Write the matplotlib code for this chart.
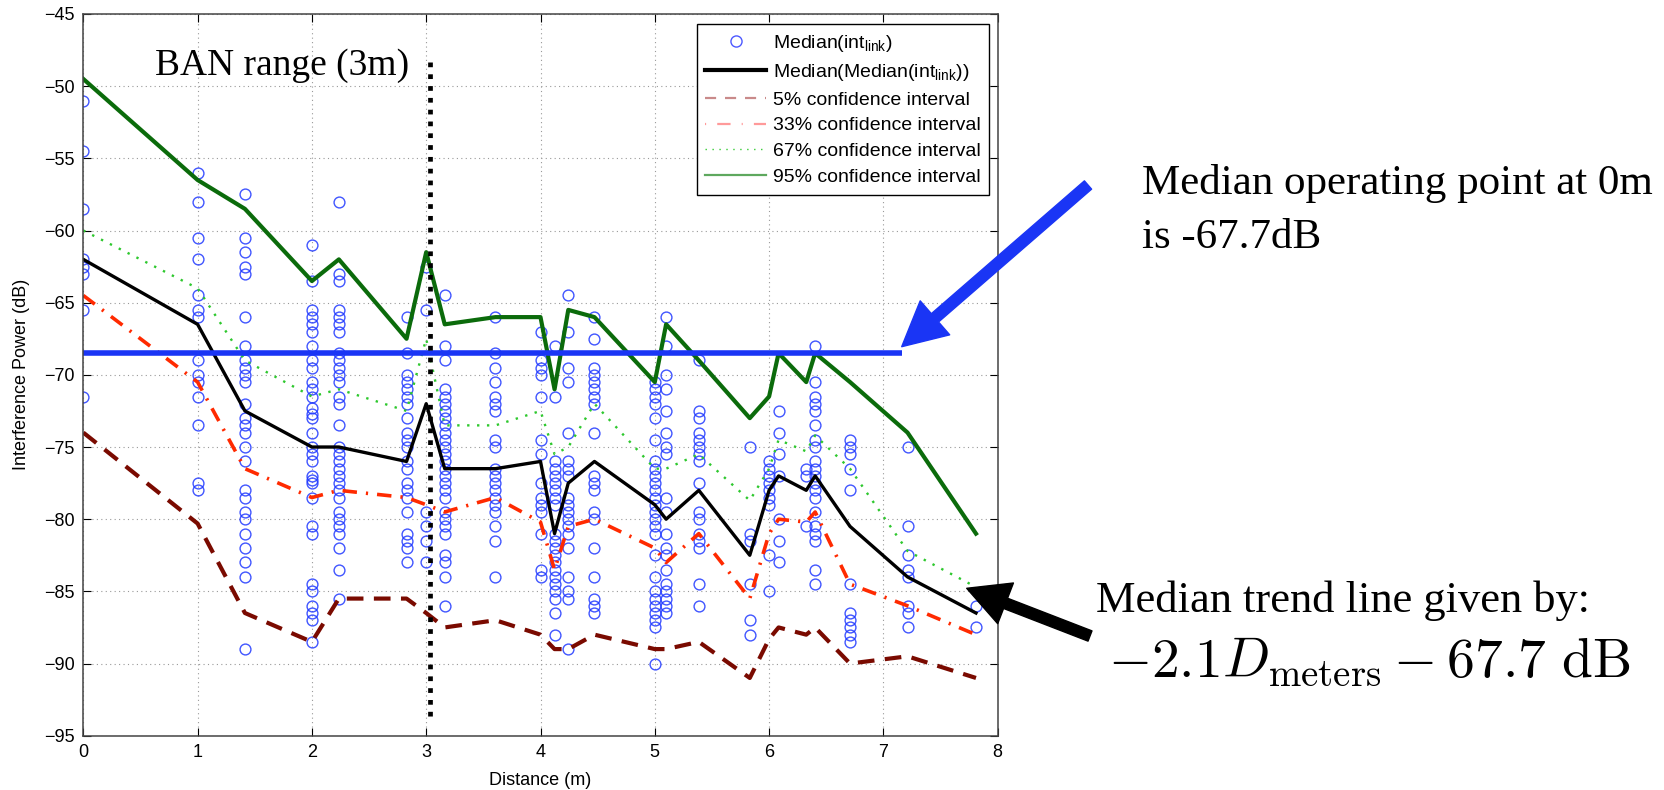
import matplotlib
matplotlib.use("Agg")
import matplotlib.pyplot as plt
from matplotlib.lines import Line2D
from matplotlib.patches import ArrowStyle

plt.rcParams['font.family'] = ['Liberation Sans', 'DejaVu Sans']
plt.rcParams['mathtext.fontset'] = 'custom'
plt.rcParams['mathtext.rm'] = 'Liberation Sans'
plt.rcParams['mathtext.it'] = 'Liberation Sans:italic'

# distances of the measurement columns (m)
dist = [0, 1, 1.414, 2, 2.236, 2.828, 3, 3.162, 3.606, 4, 4.123, 4.243,
        4.472, 5, 5.099, 5.385, 5.831, 6, 6.083, 6.325, 6.403, 6.708, 7.211, 7.81]

# per-link medians, one list per distance
c_0 = [-51, -54.5, -58.5, -62, -62.5, -63, -65.5, -71.5]
c_1 = [-56, -58, -60.5, -62, -64.5, -65.5, -66, -69, -70, -70.5, -71.5, -73.5, -77.5, -78]
c_1414 = [-57.5, -60.5, -61.5, -62.5, -63, -66, -68, -69, -69.5, -70, -70.5, -72, -73,
          -73.5, -74, -75, -76, -78, -78.5, -79.5, -80, -81, -82, -83, -84, -89]
c_2 = [-61, -63.5, -65.5, -66, -66.5, -67, -68, -69, -69.5, -70.5, -71, -71.5, -72.3,
       -72.7, -73, -74, -75, -75.5, -76, -77, -77.3, -77.5, -78.5, -80.5, -81, -84.5,
       -85, -86, -86.5, -87, -88.5]
c_2236 = [-58, -63, -63.5, -65.5, -66, -66.5, -67, -68.5, -69, -69.5, -70, -70.5, -71.5,
          -72, -73.5, -75, -75.5, -76, -76.5, -77, -77.5, -78, -78.5, -79.5, -80, -80.5,
          -81, -82, -83.5, -85.5]
c_2828 = [-66, -68.5, -70, -70.5, -71, -71.5, -72, -73, -74, -74.5, -75, -76, -76.5,
          -77.5, -78, -78.5, -79.5, -81, -81.5, -82, -83]
c_3 = [-62.5, -65.5, -79.5, -80.5, -81.5, -83]
c_3162 = [-64.5, -68, -69, -71, -71.5, -72, -72.5, -73, -73.5, -74, -74.5, -75, -75.5,
          -76, -76.5, -77, -77.5, -78, -78.5, -79.5, -80, -80.5, -81, -82.5, -83, -84, -86]
c_3606 = [-66, -68.5, -69.5, -70.5, -71.5, -72, -72.5, -74.5, -75, -76.5, -77, -77.5,
          -78, -78.5, -79, -79.5, -80.5, -81.5, -84]
c_4 = [-67, -69, -69.5, -70, -71.5, -74.5, -75.5, -77.5, -78.5, -79, -79.5, -81, -83.5, -84]
c_4123 = [-68, -71.5, -76, -76.5, -77, -77.5, -78, -78.5, -79, -81, -81.5, -82, -82.5,
          -83, -83.5, -84, -84.5, -85, -85.5, -86.5, -88]
c_4243 = [-64.5, -67, -69.5, -70.5, -74, -76, -76.5, -77, -78.5, -79, -79.5, -80, -80.5,
          -81, -82, -84, -85, -85.5, -89]
c_4472 = [-66, -67.5, -69.5, -70, -70.5, -71, -71.5, -72, -74, -77, -77.5, -78, -79.5,
          -80, -82, -84, -85.5, -86, -86.5]
c_5 = [-70.5, -71, -71.5, -72, -73, -74.5, -76, -76.5, -77, -77.5, -78, -78.5, -79,
       -79.5, -80, -80.5, -81, -82.5, -84, -85, -85.5, -86, -86.5, -87, -87.5, -90]
c_5099 = [-66, -68, -70, -71, -72.5, -74, -75, -75.5, -78.5, -79.5, -81, -82, -82.5,
          -83.5, -84.5, -85, -85.5, -86, -86.5]
c_5385 = [-69, -72.5, -73, -74, -74.5, -75, -75.5, -76, -77.5, -79.5, -80, -81, -81.5,
          -82, -84.5, -86]
c_5831 = [-75, -81, -81.5, -84.5, -87, -88]
c_6 = [-76, -76.5, -77, -77.5, -78, -78.5, -79, -82.5, -85]
c_6083 = [-72.5, -74, -75.5, -77, -80, -81.5, -83]
c_6325 = [-76.5, -77, -80.5]
c_6403 = [-68, -70.5, -71.5, -72, -72.5, -73.5, -74.5, -75, -76, -76.5, -77, -77.5, -78,
          -78.5, -79.5, -80.5, -81, -81.5, -83.5, -84.5]
c_6708 = [-74.5, -75, -75.5, -76.5, -78, -84.5, -86.5, -87, -87.5, -88, -88.5]
c_7211 = [-75, -80.5, -82.5, -83.5, -84, -86, -86.5, -87.5]
c_781 = [-86, -87.5]

columns = [c_0, c_1, c_1414, c_2, c_2236, c_2828, c_3, c_3162, c_3606, c_4, c_4123,
           c_4243, c_4472, c_5, c_5099, c_5385, c_5831, c_6, c_6083, c_6325, c_6403,
           c_6708, c_7211, c_781]

# median of medians and confidence intervals
median = [-62, -66.5, -72.5, -75, -75, -76, -72, -76.5, -76.5, -76, -81, -77.5, -76,
          -79, -80, -78, -82.5, -78, -77, -78, -77, -80.5, -84, -86.5]
ci_5 = [-74, -80.3, -86.5, -88.5, -85.5, -85.5, -86.5, -87.5, -87, -88, -89, -89, -88,
        -89, -89, -88.5, -91, -88.3, -87.5, -88, -87.5, -90, -89.5, -91]
ci_33 = [-64.5, -70.5, -76.5, -78.5, -78, -78.5, -79, -79.5, -78.5, -80.2, -83.5, -80.5,
         -80, -82, -83, -81, -85.5, -81, -80, -80.2, -79.5, -84.5, -86, -88]
ci_67 = [-60, -64, -69, -71.5, -71, -72.5, -67.5, -73.5, -73.5, -72.5, -75.5, -75, -72,
         -76.5, -76.5, -75.5, -78.7, -76.5, -74.5, -75.3, -74.2, -76.5, -82.2, -84.7]
ci_95 = [-49.5, -56.5, -58.5, -63.5, -62, -67.5, -61.5, -66.5, -66, -66, -71, -65.5, -66,
         -70.5, -66.5, -69, -73, -71.5, -68.5, -70.5, -68.5, -70.5, -74, -81]

operating_point = -68.5
ban_range = 3.03

W, H = 1664, 790
fig = plt.figure(figsize=(W / 100, H / 100), dpi=100)
ax = fig.add_axes([83.3 / W, 1 - 735.7 / H, (997.7 - 83.3) / W, (735.7 - 14) / H])

xs, ys = [], []
for d, col in zip(dist, columns):
    xs += [d] * len(col)
    ys += col

ax.plot(xs, ys, 'o', ms=7.8, mfc='none', mec=(0.12, 0.22, 1.0), mew=1.0, alpha=0.85)
ax.plot(dist, ci_5, color='#7a0a00', lw=3, dashes=(4, 2.5))
ax.plot(dist, ci_33, color='#ff2a00', lw=2.6, dashes=(4, 2.5, 0.6, 2.5))
ax.plot(dist, ci_67, color='#2ec82e', lw=1.7, dashes=(1, 3.2))
ax.plot(dist, ci_95, color='#0b6b0b', lw=3)
ax.plot(dist, median, color='black', lw=2.4)

ax.plot([0, 7.16], [operating_point, operating_point], color='#1a35f5', lw=4,
        solid_capstyle='butt')
ax.plot([ban_range, ban_range], [-48.3, -93.8], color='black', lw=3.4,
        dashes=(1, 1.5), dash_capstyle='butt')

ax.set_xlim(0, 8)
ax.set_ylim(-95, -45)
ax.set_xticks(range(0, 9))
ax.set_yticks(range(-95, -44, 5))
ax.grid(True, color='#999999', lw=0.8, dashes=(1, 3))
ax.tick_params(direction='in', top=True, right=True, length=6, width=0.8,
               labelsize=13, pad=6)
for s in ax.spines.values():
    s.set_color('#444444')
    s.set_linewidth(1.1)
ax.set_xlabel('Distance (m)', fontsize=13, labelpad=8)
ax.set_ylabel('Interference Power (dB)', fontsize=13, labelpad=10)

handles = [
    Line2D([], [], ls='none', marker='o', ms=8, mfc='none', mec=(0.3, 0.35, 1.0), mew=1.0),
    Line2D([], [], color='black', lw=3),
    Line2D([], [], color='#c98a8a', lw=1.6, dashes=(5, 4)),
    Line2D([], [], color='#ff9a9a', lw=1.6, dashes=(0.5, 5, 6, 5)),
    Line2D([], [], color='#33cc33', lw=1.0, dashes=(1, 4)),
    Line2D([], [], color='#5ea85e', lw=1.6),
]
labels = ['Median(int$_{\\mathrm{link}}$)',
          'Median(Median(int$_{\\mathrm{link}}$))',
          '5% confidence interval',
          '33% confidence interval',
          '67% confidence interval',
          '95% confidence interval']
leg = ax.legend(handles, labels, loc='upper right', fontsize=14,
                bbox_to_anchor=(989 / W, 1 - 24 / H), bbox_transform=fig.transFigure,
                borderaxespad=0, fancybox=False, framealpha=1, edgecolor='black',
                handlelength=3.1, handletextpad=0.35, labelspacing=0.42,
                borderpad=0.45, numpoints=1)
leg.get_frame().set_linewidth(1.0)

serif = ['Liberation Serif', 'DejaVu Serif']
fig.text(155 / W, 1 - 75 / H, 'BAN range (3m)', fontsize=27, family=serif, va='baseline')
fig.text(1142 / W, 1 - 194 / H, 'Median operating point at 0m', fontsize=31,
         family=serif, va='baseline')
fig.text(1142 / W, 1 - 248 / H, 'is -67.7dB', fontsize=31, family=serif, va='baseline')
fig.text(1096 / W, 1 - 612 / H, 'Median trend line given by:', fontsize=32,
         family=serif, va='baseline')
fig.text(1108 / W, 1 - 677 / H, r'$-2.1D_{\mathrm{meters}} - 67.7\ \mathrm{dB}$',
         fontsize=40, va='baseline', math_fontfamily='cm')

blue_arrow = ArrowStyle('simple', head_length=31.7, head_width=32.4, tail_width=7.9)
ax.annotate('', xy=(901.7, H - 346.7), xycoords='figure pixels',
            xytext=(1088, H - 185), textcoords='figure pixels',
            arrowprops=dict(arrowstyle=blue_arrow, color='#1a35f5', shrinkA=0,
                            shrinkB=0, mutation_scale=1),
            annotation_clip=False)
black_arrow = ArrowStyle('simple', head_length=30, head_width=31.4, tail_width=7.9)
ax.annotate('', xy=(966.7, H - 588.3), xycoords='figure pixels',
            xytext=(1090, H - 636), textcoords='figure pixels',
            arrowprops=dict(arrowstyle=black_arrow, color='black', shrinkA=0,
                            shrinkB=0, mutation_scale=1),
            annotation_clip=False)

fig.savefig('out.png', dpi=100)
